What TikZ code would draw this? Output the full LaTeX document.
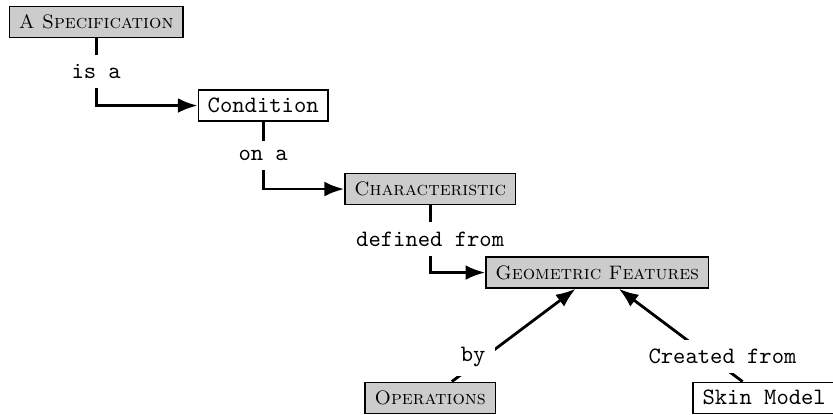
\documentclass[tikz,border=0pt]{standalone}
\usepackage{fontspec}
\usepackage{tikz}
\usetikzlibrary{arrows.meta,positioning}
\tikzset{
  concept/.style={draw, semithick, fill=gray!40, font=\fontsize{8.3}{10}\selectfont, inner xsep=4pt, minimum height=13.2pt},
  box/.style={draw, semithick, fill=white, font=\ttfamily, inner xsep=4pt, minimum height=13.2pt},
  lbl/.style={fill=white, font=\ttfamily, inner sep=4pt},
  arrow/.style={-{Latex}, very thick}
}

\begin{document}
\begin{tikzpicture}[on grid]
  \useasboundingbox (-1.44,0.33) rectangle (11.03,-5.87);

  \node[concept] (spec) {\textsc{A Specification}};
  \node[box, below right=1.25cm and 2.5cm of spec] (cond) {Condition};
  \node[concept, below right=1.25cm and 2.5cm of cond] (charac) {\textsc{Characteristic}};
  \node[concept, below right=1.25cm and 2.5cm of charac] (geo) {\textsc{Geometric Features}};
  \node[concept, below left=1.875cm and 2.5cm of geo] (ops) {\textsc{Operations}};
  \node[box, below right=1.875cm and 2.5cm of geo] (skin) {Skin Model};

  \draw[arrow] (spec) |- node[lbl, pos=0.25] {is a} (cond);
  \draw[arrow] (cond) |- node[lbl, pos=0.25] {on a} (charac);
  \draw[arrow] (charac) |- node[lbl, pos=0.25] {defined from} (geo);
  \draw[arrow] (ops) -- node[lbl, pos=0.27, xshift=-0.18cm] {by} (geo);
  \draw[arrow] (skin) -- node[lbl, pos=0.27, xshift=0.2cm] {Created from} (geo);
\end{tikzpicture}
\end{document}
